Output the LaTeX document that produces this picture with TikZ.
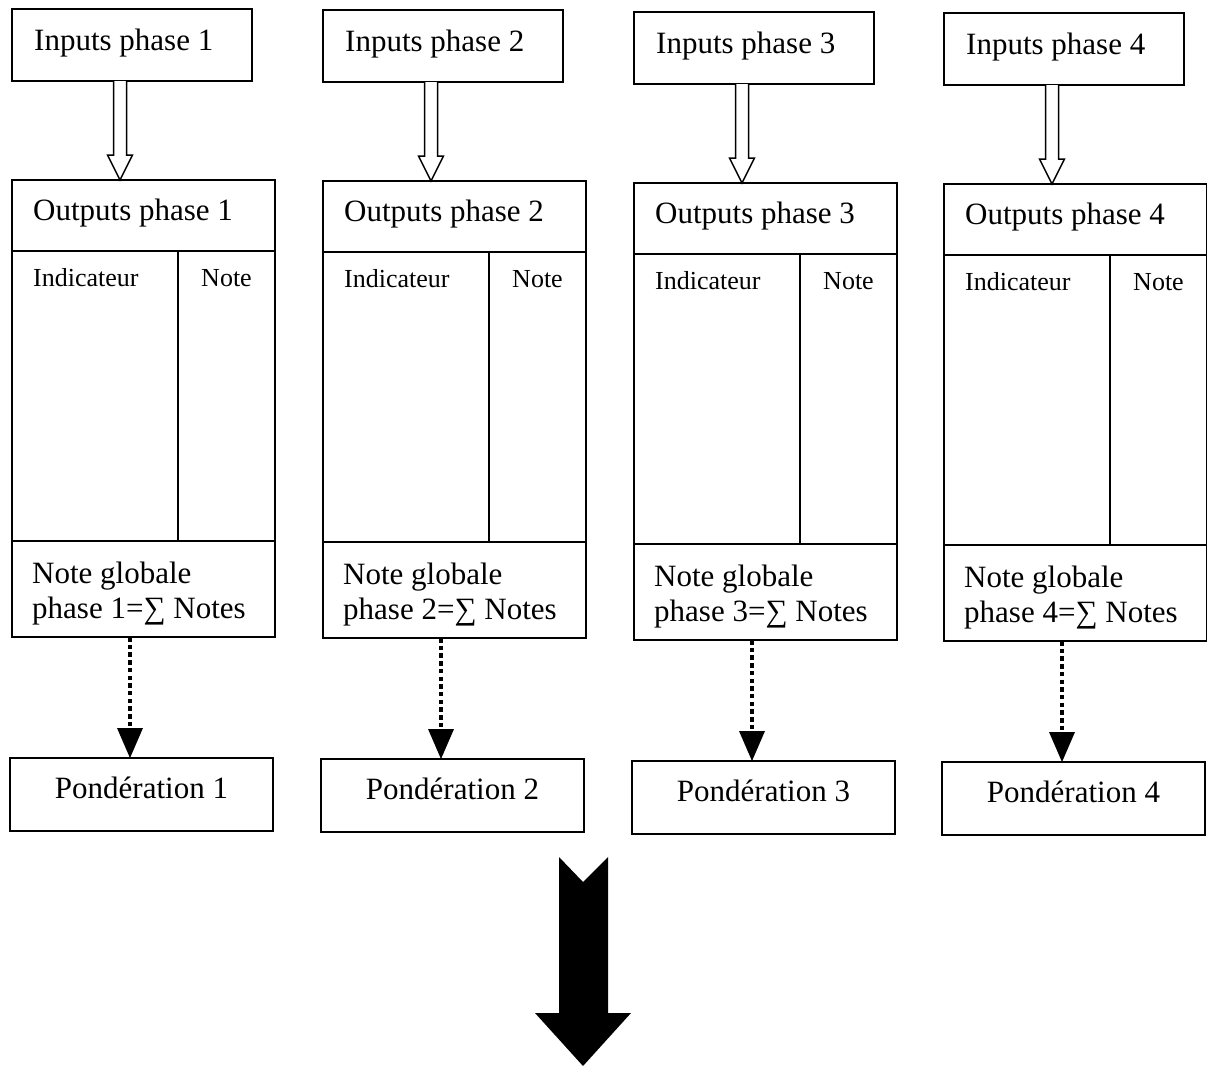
\documentclass[tikz,border=0pt]{standalone}
\usepackage{fontspec}
\setmainfont{Liberation Serif}
\usetikzlibrary{calc}
\tikzset{
  box/.style={draw, line width=1.6pt, inner sep=0pt, outer sep=0pt, anchor=north west},
  lab/.style={font=\fontsize{31}{35}\selectfont, inner sep=0pt, anchor=base west},
  labc/.style={font=\fontsize{31}{35}\selectfont, inner sep=0pt, anchor=base},
  small/.style={font=\fontsize{26}{30}\selectfont, inner sep=0pt, anchor=base west},
  smallc/.style={font=\fontsize{26}{30}\selectfont, inner sep=0pt, anchor=base},
  hollow/.style={draw, line width=1.5pt, fill=white, line join=miter},
  dots/.style={line width=4.5pt, dash pattern=on 4.5pt off 3.2pt},
}
\begin{document}
\begin{tikzpicture}[x=1pt,y=-1pt]
\useasboundingbox[fill=white] (0,0) rectangle (1207,1066);

\foreach \i/\x/\d in {1/12/0, 2/323/1, 3/634/3, 4/944/4}{
  % input box
  \node[box, minimum width=240pt, minimum height=72pt] (in\i) at (\x,9+\d) {};
  \node[lab] (intext\i) at ([xshift=22pt,yshift=-41pt]in\i.north west) {Inputs phase \i};
  % outputs table: header, indicator column, note column, total
  \node[box, minimum width=263pt, minimum height=71pt] (head\i) at (\x,180+\d) {};
  \node[box, minimum width=166pt, minimum height=290pt] (ind\i) at (\x,251+\d) {};
  \node[box, minimum width=97pt, minimum height=290pt] (note\i) at (\x+166,251+\d) {};
  \node[box, minimum width=263pt, minimum height=96pt] (glob\i) at (\x,541+\d) {};
  \node[lab] (headtext\i) at ([xshift=21pt,yshift=-40pt]head\i.north west) {Outputs phase \i};
  \node[small] (indtext\i) at ([xshift=21pt,yshift=-35pt]ind\i.north west) {Indicateur};
  \node[smallc] (notetext\i) at ([yshift=-35pt]note\i.north) {Note};
  \node[lab] (globa\i) at ([xshift=20pt,yshift=-42pt]glob\i.north west) {Note globale};
  \node[lab] (globb\i) at ([xshift=20pt,yshift=-77pt]glob\i.north west) {phase \i=∑ Notes};
  % weighting box
  \node[box, minimum width=263pt, minimum height=73pt] (pond\i) at (\x-2,758+\d) {};
  \node[labc] (pondtext\i) at ([yshift=-40pt]pond\i.north) {Pondération \i};

  % hollow arrow from inputs to outputs
  \coordinate (hs\i) at ($(in\i.south west)+(108,0)$);
  \coordinate (ht\i) at (hs\i |- head\i.north);
  \draw[hollow] ([xshift=-6.5pt]hs\i) -- ([xshift=-6.5pt,yshift=25pt]ht\i)
     -- ([xshift=-12.5pt,yshift=25pt]ht\i) -- (ht\i)
     -- ([xshift=12.5pt,yshift=25pt]ht\i) -- ([xshift=6.5pt,yshift=25pt]ht\i)
     -- ([xshift=6.5pt]hs\i);

  % dotted arrow from total to weighting
  \coordinate (ds\i) at ($(glob\i.south west)+(118,0)$);
  \coordinate (dt\i) at (ds\i |- pond\i.north);
  \draw[dots] (ds\i) -- ([yshift=28pt]dt\i);
  \fill ([xshift=-13pt,yshift=30pt]dt\i) -- (dt\i) -- ([xshift=13pt,yshift=30pt]dt\i) -- cycle;
}

% large downward arrow
\fill (559,857) -- (583,882) -- (608,857) -- (608,1013) -- (631,1013)
   -- (583,1066) -- (535,1013) -- (559,1013) -- cycle;
\end{tikzpicture}
\end{document}
